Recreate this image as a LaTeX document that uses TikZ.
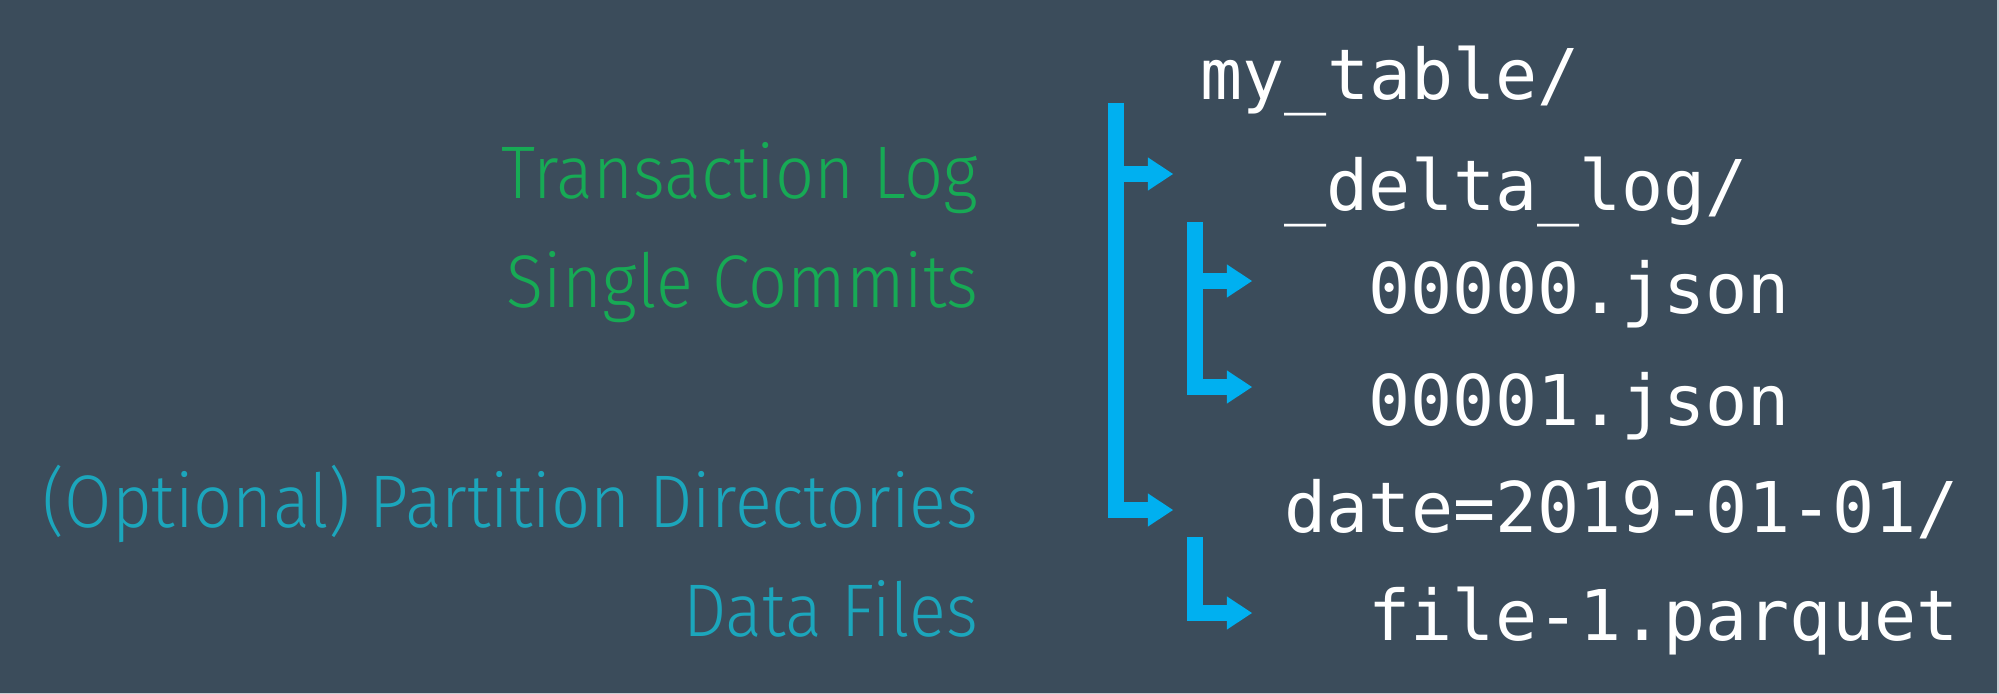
\documentclass[tikz,border=0pt]{standalone}
\usepackage{fontspec}
\usetikzlibrary{arrows.meta}
\newfontfamily\codefont{DejaVu Sans Mono}
\IfFontExistsTF{Fira Sans Light}{\newfontfamily\notefont{Fira Sans Light}[FakeStretch=0.92]}{\newfontfamily\notefont{Fira Sans}[FakeStretch=0.92]}
\definecolor{slate}{HTML}{3B4C5B}
\definecolor{pipeblue}{HTML}{00B0F0}
\definecolor{loggreen}{HTML}{17AA55}
\definecolor{datateal}{HTML}{1CA6BC}
\definecolor{rimgray}{HTML}{C9CED3}

\begin{document}
\begin{tikzpicture}[x=0.01cm, y=-0.01cm,
    file/.style={anchor=base west, inner sep=0pt, text=white, font=\codefont\fontsize{19.9}{24}\selectfont},
    note/.style={anchor=base east, inner sep=0pt, font=\notefont\fontsize{21.2}{24}\selectfont},
    pipe/.style={draw=pipeblue, line width=0.16cm, -{Triangle[length=0.25cm, width=0.33cm, line width=0pt]}}
  ]
  \fill[slate] (0,0) rectangle (1999,694);
  \fill[rimgray] (0,692.5) rectangle (1999,694);
  \fill[rimgray] (1996.5,0) rectangle (1999,694);
  \useasboundingbox (0,0) rectangle (1999,694);

  \node[file] (root) at (1200,100) {my\_table/};
  \node[file] (log) at (1284,210) {\_delta\_log/};
  \node[file] (c0) at (1368,313) {00000.json};
  \node[file] (c1) at (1368,425) {00001.json};
  \node[file] (part) at (1284,532) {date=2019-01-01/};
  \node[file] (data) at (1368,640) {file-1.parquet};

  \node[note, text=loggreen] (tlog) at (979,199) {Transaction Log};
  \node[note, text=loggreen] (commits) at (979,307) {Single Commits};
  \node[note, text=datateal] (partdir) at (979,527) {(Optional) Partition Directories};
  \node[note, text=datateal] (files) at (979,636) {Data Files};

  \coordinate (t1) at (1116,103);
  \coordinate (t2) at (1195,222);
  \coordinate (t3) at (1195,537);
  \coordinate (b1) at ([shift={(-111,-36)}]log.base west);
  \coordinate (b2) at ([shift={(-116,-32)}]c0.base west);
  \coordinate (b3) at ([shift={(-116,-38)}]c1.base west);
  \coordinate (b4) at ([shift={(-111,-22)}]part.base west);
  \coordinate (b5) at ([shift={(-116,-27)}]data.base west);

  \draw[pipe] (t1) |- (b4);
  \draw[pipe] (b1 -| t1) -- (b1);
  \draw[pipe] (t2) |- (b3);
  \draw[pipe] (b2 -| t2) -- (b2);
  \draw[pipe] (t3) |- (b5);
\end{tikzpicture}
\end{document}
